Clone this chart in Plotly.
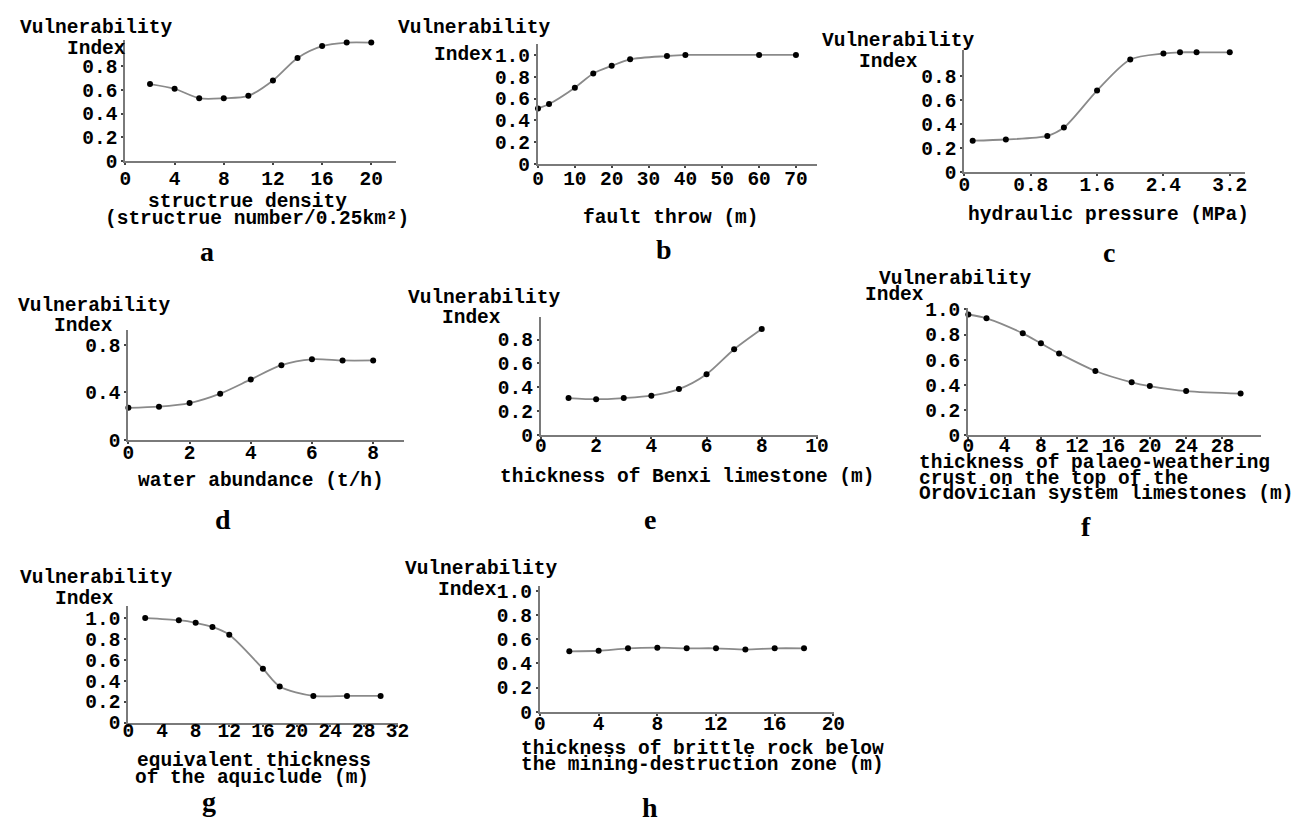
import plotly.graph_objects as go

W, H = 1308, 833

# ---------------- data ----------------
a_x = [2, 4, 6, 8, 10, 12, 14, 16, 18, 20]
a_y = [0.65, 0.61, 0.53, 0.53, 0.55, 0.68, 0.87, 0.97, 1.0, 1.0]
b_x = [0, 3, 10, 15, 20, 25, 35, 40, 60, 70]
b_y = [0.51, 0.55, 0.70, 0.83, 0.90, 0.96, 0.99, 1.0, 1.0, 1.0]
c_x = [0.1, 0.5, 1.0, 1.2, 1.6, 2.0, 2.4, 2.6, 2.8, 3.2]
c_y = [0.26, 0.27, 0.30, 0.37, 0.68, 0.94, 0.99, 1.0, 1.0, 1.0]
d_x = [0, 1, 2, 3, 4, 5, 6, 7, 8]
d_y = [0.27, 0.28, 0.31, 0.39, 0.51, 0.63, 0.68, 0.67, 0.67]
e_x = [1, 2, 3, 4, 5, 6, 7, 8]
e_y = [0.31, 0.30, 0.31, 0.33, 0.385, 0.51, 0.72, 0.89]
f_x = [0, 2, 6, 8, 10, 14, 18, 20, 24, 30]
f_y = [0.96, 0.93, 0.81, 0.73, 0.65, 0.51, 0.42, 0.39, 0.35, 0.33]
g_x = [2, 6, 8, 10, 12, 16, 18, 22, 26, 30]
g_y = [1.0, 0.98, 0.955, 0.915, 0.84, 0.515, 0.345, 0.255, 0.255, 0.255]
h_x = [2, 4, 6, 8, 10, 12, 14, 16, 18]
h_y = [0.50, 0.505, 0.525, 0.53, 0.525, 0.525, 0.515, 0.525, 0.525]

# tick labels
a_xticks = [0, 4, 8, 12, 16, 20]
b_xticks = [0, 10, 20, 30, 40, 50, 60, 70]
c_xticks = [0, 0.8, 1.6, 2.4, 3.2]
d_xticks = [0, 2, 4, 6, 8]
e_xticks = [0, 2, 4, 6, 8, 10]
f_xticks = [0, 4, 8, 12, 16, 20, 24, 28]
g_xticks = [0, 4, 8, 12, 16, 20, 24, 28, 32]
h_xticks = [0, 4, 8, 12, 16, 20]

y_to08 = [0, 0.2, 0.4, 0.6, 0.8]
y_to10 = [0, 0.2, 0.4, 0.6, 0.8, 1.0]
y_d = [0, 0.4, 0.8]
y_to08_text = ["0", "0.2", "0.4", "0.6", "0.8"]
y_to10_text = ["0", "0.2", "0.4", "0.6", "0.8", "1.0"]
y_d_text = ["0", "0.4", "0.8"]

letters = ["a", "b", "c", "d", "e", "f", "g", "h"]

# ---------------- layout geometry (pixels) ----------------
# (x_left, x_right, y_bottom, y_top, xrange_max, yrange_max, x-label standoff)
geo = [
    (121, 395, 157, 33, 22.0, 1.02, -4),
    (539, 822, 160, 37, 75.8, 1.10, -6),
    (971, 1255, 168, 43, 3.38, 1.02, -8),
    (124, 403, 443, 330, 9.0, 0.93, -8),
    (542, 823, 438, 317, 10.05, 0.99, -10),
    (975, 1272, 438, 308, 32.3, 1.01, -10),
    (124, 397, 733, 613, 32.05, 1.12, -13),
    (541, 839, 722, 593, 20.05, 1.04, -9),
]

panels = [
    (a_x, a_y, a_xticks, y_to08, y_to08_text),
    (b_x, b_y, b_xticks, y_to10, y_to10_text),
    (c_x, c_y, c_xticks, y_to08, y_to08_text),
    (d_x, d_y, d_xticks, y_d, y_d_text),
    (e_x, e_y, e_xticks, y_to08, y_to08_text),
    (f_x, f_y, f_xticks, y_to10, y_to10_text),
    (g_x, g_y, g_xticks, y_to10, y_to10_text),
    (h_x, h_y, h_xticks, y_to10, y_to10_text),
]

MONO = "Liberation Mono"
FS = 19.5
AX_COL = "#7a7a7a"

fig = go.Figure()
layout = dict(
    width=W, height=H, margin=dict(l=0, r=0, t=0, b=0),
    paper_bgcolor="white", plot_bgcolor="white", showlegend=False,
)

for i, ((xs, ys, xt, yt, ytt), (xl, xr, yb, ytop, xmax, ymax, sto)) in enumerate(zip(panels, geo), start=1):
    sfx = "" if i == 1 else str(i)
    fig.add_trace(go.Scatter(
        x=xs, y=ys, mode="lines+markers",
        line=dict(color="#8a8a8a", width=1.8, shape="spline", smoothing=0.8),
        marker=dict(color="black", size=6),
        xaxis="x" + sfx, yaxis="y" + sfx, cliponaxis=False,
    ))
    xt_text = [("%g" % v) for v in xt]
    layout["xaxis" + sfx] = dict(
        domain=[xl / W, xr / W], range=[0, xmax], anchor="y" + sfx,
        showline=True, linecolor=AX_COL, linewidth=2.2, showgrid=False, zeroline=False,
        tickvals=xt, ticktext=xt_text, ticks="outside", ticklen=2, tickwidth=2,
        tickcolor="#444", ticklabelstandoff=sto,
        tickfont=dict(family=MONO, size=FS, color="black", weight="bold"),
    )
    layout["yaxis" + sfx] = dict(
        domain=[1 - yb / H, 1 - ytop / H], range=[0, ymax], anchor="x" + sfx,
        showline=True, linecolor=AX_COL, linewidth=2.2, showgrid=False, zeroline=False,
        tickvals=yt, ticktext=ytt, ticks="outside", ticklen=2, tickwidth=2,
        tickcolor="#444", ticklabelstandoff=0,
        tickfont=dict(family=MONO, size=FS, color="black", weight="bold"),
    )

fig.update_layout(**layout)

# ---------------- text ----------------
def txt(s, x, y, xanchor="left", size=FS, family=MONO, weight="bold"):
    fig.add_annotation(
        text=s, x=x / W, y=1 - y / H, xref="paper", yref="paper",
        xanchor=xanchor, yanchor="middle", showarrow=False,
        font=dict(family=family, size=size, color="black", weight=weight),
    )

# y-axis labels "Vulnerability" / "Index"
vul_pos = [(12, 21), (395, 21), (825, 34), (10, 306), (405, 298), (882, 278), (12, 585), (402, 576)]
idx_pos = [(60, 42), (432, 48), (862, 55), (47, 326), (440, 318), (868, 294), (48, 606), (436, 597)]
for (vx, vy), (ix, iy) in zip(vul_pos, idx_pos):
    txt("Vulnerability", vx, vy)
    txt("Index", ix, iy)

# x-axis titles
txt("structrue density", 245, 199, "center")
txt("(structrue number/0.25km²)", 254, 216, "center")
txt("fault throw (m)", 674, 215, "center")
txt("hydraulic pressure (MPa)", 973, 212)
txt("water abundance (t/h)", 258, 485, "center")
txt("thickness of Benxi limestone (m)", 498, 481)
txt("thickness of palaeo-weathering", 923, 467)
txt("crust on the top of the", 923, 483)
txt("Ordovician system limestones (m)", 923, 499)
txt("equivalent thickness", 251, 772, "center")
txt("of the aquiclude (m)", 249, 790, "center")
txt("thickness of brittle rock below", 520, 760)
txt("the mining-destruction zone (m)", 520, 777)

# panel letters
letter_pos = [(204, 250), (667, 248), (1118, 251), (220, 525), (652, 525), (1094, 532), (206, 814), (652, 820)]
for s, (lx, ly) in zip(letters, letter_pos):
    txt(s, lx, ly, "center", size=28, family="Liberation Serif")

fig.write_html("out.html")
